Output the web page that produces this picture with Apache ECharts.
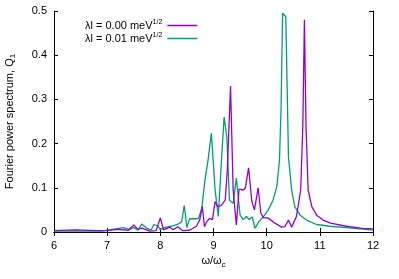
<!DOCTYPE html>
<html><head><meta charset="utf-8">
<script src="https://cdn.jsdelivr.net/npm/echarts@6/dist/echarts.min.js"></script>
<style>html,body{margin:0;padding:0;background:#fff}#c{width:399px;height:279px}</style>
</head><body><div id="c"></div>
<script>
const seriesNames = ['λl = 0.00 meV1/2', 'λl = 0.01 meV1/2'];
const xTicks = [6, 7, 8, 9, 10, 11, 12];
const yTicks = [0, 0.1, 0.2, 0.3, 0.4, 0.5];

const purpleX = [6.0, 6.4, 6.8, 7.0, 7.2, 7.4, 7.5, 7.58, 7.65, 7.8, 7.92, 8.0, 8.06, 8.18, 8.24, 8.33, 8.42, 8.55, 8.68, 8.74, 8.79, 8.83, 8.87, 8.93, 8.98, 9.03, 9.08, 9.15, 9.22, 9.26, 9.32, 9.37, 9.43, 9.48, 9.56, 9.60, 9.66, 9.72, 9.77, 9.84, 9.89, 9.94, 10.02, 10.12, 10.21, 10.28, 10.34, 10.41, 10.47, 10.56, 10.64, 10.68, 10.71, 10.74, 10.78, 10.85, 10.94, 11.06, 11.2, 11.5, 11.8, 12.0];
const purpleY = [0.003, 0.005, 0.003, 0.003, 0.006, 0.004, 0.016, 0.006, 0.009, 0.002, 0.003, 0.032, 0.005, 0.011, 0.005, 0.012, 0.003, 0.004, 0.013, 0.027, 0.058, 0.012, 0.023, 0.031, 0.028, 0.069, 0.057, 0.061, 0.072, 0.14, 0.33, 0.095, 0.016, 0.097, 0.095, 0.1, 0.145, 0.07, 0.05, 0.1, 0.043, 0.032, 0.032, 0.023, 0.016, 0.011, 0.012, 0.027, 0.011, 0.035, 0.095, 0.24, 0.48, 0.24, 0.095, 0.057, 0.038, 0.027, 0.02, 0.013, 0.008, 0.007];

const greenX = [6.0, 6.9, 7.0, 7.15, 7.3, 7.42, 7.5, 7.58, 7.65, 7.75, 7.83, 7.88, 7.96, 8.0, 8.07, 8.2, 8.32, 8.4, 8.45, 8.5, 8.55, 8.67, 8.72, 8.78, 8.84, 8.9, 8.96, 9.03, 9.09, 9.15, 9.2, 9.25, 9.3, 9.37, 9.43, 9.5, 9.56, 9.62, 9.67, 9.73, 9.78, 9.85, 9.94, 10.03, 10.12, 10.19, 10.24, 10.27, 10.3, 10.36, 10.41, 10.47, 10.53, 10.63, 10.75, 10.94, 11.19, 11.5, 11.95, 12.0];
const greenY = [0.002, 0.002, 0.004, 0.007, 0.01, 0.006, 0.01, 0.004, 0.018, 0.008, 0.005, 0.017, 0.013, 0.005, 0.01, 0.013, 0.017, 0.023, 0.06, 0.01, 0.03, 0.03, 0.031, 0.054, 0.118, 0.165, 0.224, 0.095, 0.035, 0.163, 0.26, 0.216, 0.072, 0.065, 0.122, 0.038, 0.028, 0.035, 0.028, 0.034, 0.008, 0.023, 0.035, 0.05, 0.072, 0.102, 0.16, 0.276, 0.495, 0.487, 0.17, 0.095, 0.057, 0.038, 0.027, 0.017, 0.013, 0.01, 0.005, 0.005];

const pair = (xs, ys) => xs.map((x, i) => [x, ys[i]]);
const FONT = 'Liberation Sans';
const chart = echarts.init(document.getElementById('c'), null, {renderer: 'canvas'});
const axisCommon = {
  axisLine: {show: true, lineStyle: {color: '#000', width: 1}},
  axisTick: {show: true, inside: true, length: 4, lineStyle: {color: '#000'}},
  splitLine: {show: false}
};
chart.setOption({
  animation: false,
  backgroundColor: '#fff',
  textStyle: {fontFamily: FONT},
  grid: {left: 54, right: 26, top: 11, bottom: 47, containLabel: false, outerBoundsMode: 'none'},
  legend: {
    orient: 'vertical', left: 80, top: 14, align: 'right',
    itemWidth: 30, itemHeight: 1.5, itemGap: 0, icon: 'rect',
    data: seriesNames,
    formatter: n => '{a|' + n.replace('1/2', '') + '}{s|1/2}',
    textStyle: {fontFamily: FONT, color: '#000', fontSize: 11, lineHeight: 11,
      rich: {a: {fontFamily: FONT, fontSize: 11, color: '#000', lineHeight: 11},
             s: {fontFamily: FONT, fontSize: 7, color: '#000', lineHeight: 11, padding: [0, 0, 6, 0]}}}
  },
  xAxis: [
    Object.assign({type: 'value', min: xTicks[0], max: xTicks[xTicks.length - 1], interval: 1,
      position: 'bottom',
      name: '{a|ω/ω}{b|c}', nameLocation: 'middle', nameGap: 21,
      nameTextStyle: {rich: {a: {fontFamily: FONT, fontSize: 11, color: '#000'},
                             b: {fontFamily: FONT, fontSize: 8, color: '#000', padding: [6, 0, 0, 0]}}},
      axisLabel: {fontFamily: FONT, fontSize: 11, color: '#000', margin: 8}}, axisCommon),
    Object.assign({type: 'value', min: xTicks[0], max: xTicks[xTicks.length - 1], interval: 1,
      position: 'top', axisLabel: {show: false}}, axisCommon)
  ],
  yAxis: [
    Object.assign({type: 'value', min: yTicks[0], max: yTicks[yTicks.length - 1], interval: 0.1,
      position: 'left',
      name: '{a|Fourier power spectrum, Q}{b|1}', nameLocation: 'middle', nameGap: 37, nameRotate: 90,
      nameTextStyle: {rich: {a: {fontFamily: FONT, fontSize: 11, color: '#000'},
                             b: {fontFamily: FONT, fontSize: 8, color: '#000', padding: [6, 0, 0, 0]}}},
      axisLabel: {fontFamily: FONT, fontSize: 11, color: '#000', margin: 7,
        formatter: v => (Math.abs(v) < 1e-9 ? '0' : String(Math.round(v * 10) / 10))}}, axisCommon),
    Object.assign({type: 'value', min: yTicks[0], max: yTicks[yTicks.length - 1], interval: 0.1,
      position: 'right', axisLabel: {show: false}}, axisCommon)
  ],
  series: [
    {name: seriesNames[0], type: 'line', data: pair(purpleX, purpleY), showSymbol: false, symbol: 'none',
     lineStyle: {color: '#9400d3', width: 1.3}, itemStyle: {color: '#9400d3'}, z: 3},
    {name: seriesNames[1], type: 'line', data: pair(greenX, greenY), showSymbol: false, symbol: 'none',
     lineStyle: {color: '#009e73', width: 1.3}, itemStyle: {color: '#009e73'}, z: 2}
  ]
});
</script></body></html>
